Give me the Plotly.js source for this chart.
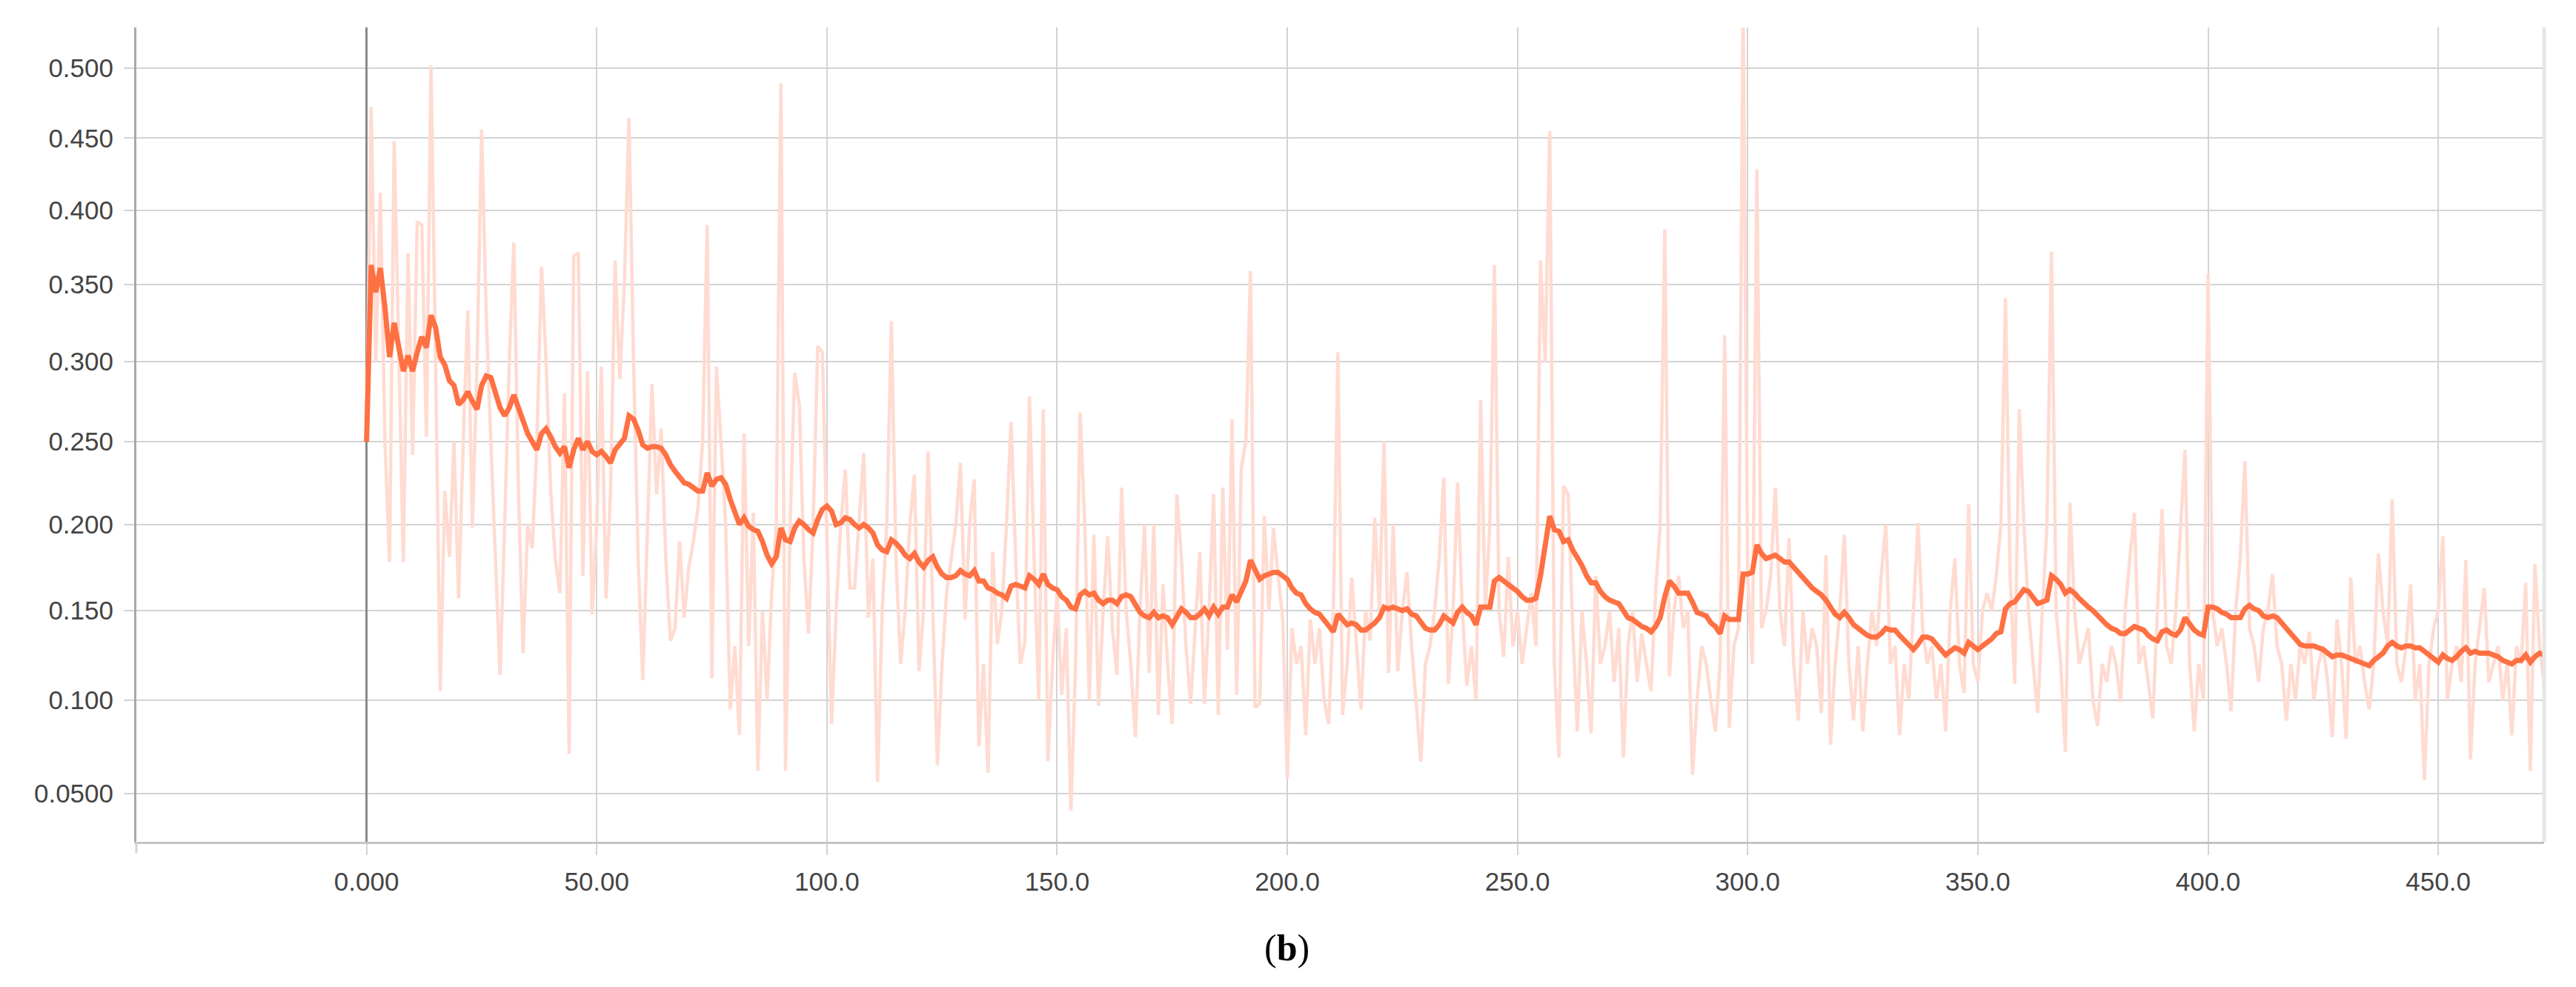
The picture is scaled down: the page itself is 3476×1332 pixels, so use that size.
<!DOCTYPE html>
<html>
<head>
<meta charset="utf-8">
<script src="https://cdn.plot.ly/plotly-3.0.1.min.js"></script>
<style>
  html, body { margin: 0; padding: 0; background: #ffffff; }
  #chart { width: 3476px; height: 1332px; }
</style>
</head>
<body>
<div id="chart"></div>
<script>
// Step axis: first step and step size
const stepStart = 0;
const stepSize = 1;

// Smoothed loss (one value per step)
const smoothed = [
0.25,0.363,0.345,0.361,0.335,0.303,0.325,0.31,0.294,0.304,
0.294,0.306,0.316,0.309,0.33,0.322,0.303,0.298,0.288,0.285,
0.273,0.276,0.281,0.275,0.27,0.285,0.291,0.29,0.281,0.271,
0.266,0.271,0.279,0.271,0.261,0.255,0.25,0.245,0.255,0.258,
0.253,0.247,0.243,0.247,0.234,0.245,0.252,0.245,0.25,0.244,
0.242,0.244,0.241,0.237,0.245,0.248,0.252,0.266,0.264,0.257,
0.248,0.246,0.247,0.247,0.246,0.242,0.236,0.232,0.228,0.225,
0.224,0.222,0.22,0.22,0.231,0.223,0.227,0.228,0.224,0.215,
0.207,0.2,0.204,0.199,0.197,0.196,0.19,0.182,0.177,0.181,
0.198,0.191,0.19,0.198,0.202,0.2,0.197,0.195,0.203,0.209,
0.211,0.208,0.2,0.201,0.204,0.203,0.2,0.198,0.2,0.198,
0.195,0.188,0.185,0.184,0.191,0.189,0.186,0.182,0.18,0.183,
0.178,0.175,0.179,0.181,0.175,0.171,0.169,0.169,0.17,0.173,
0.171,0.17,0.173,0.167,0.167,0.163,0.162,0.16,0.159,0.157,
0.164,0.165,0.164,0.163,0.17,0.168,0.165,0.171,0.165,0.163,
0.162,0.158,0.156,0.152,0.151,0.159,0.161,0.159,0.16,0.156,
0.154,0.156,0.156,0.154,0.158,0.159,0.158,0.154,0.149,0.147,
0.146,0.149,0.146,0.147,0.146,0.142,0.147,0.151,0.149,0.146,
0.146,0.148,0.151,0.147,0.152,0.148,0.152,0.152,0.159,0.155,
0.161,0.167,0.179,0.173,0.168,0.17,0.171,0.172,0.172,0.17,
0.168,0.163,0.16,0.159,0.154,0.151,0.149,0.148,0.145,0.141,
0.138,0.148,0.145,0.142,0.143,0.142,0.139,0.139,0.141,0.143,
0.146,0.152,0.151,0.152,0.151,0.15,0.151,0.148,0.147,0.143,
0.14,0.139,0.139,0.142,0.147,0.145,0.143,0.149,0.152,0.149,
0.147,0.142,0.152,0.152,0.152,0.167,0.169,0.167,0.165,0.163,
0.161,0.158,0.156,0.156,0.157,0.17,0.19,0.205,0.197,0.196,
0.19,0.191,0.185,0.181,0.176,0.17,0.166,0.166,0.161,0.158,
0.156,0.155,0.154,0.15,0.146,0.145,0.143,0.141,0.14,0.138,
0.141,0.146,0.158,0.167,0.164,0.16,0.16,0.16,0.155,0.149,
0.148,0.147,0.143,0.141,0.137,0.147,0.145,0.145,0.145,0.171,
0.171,0.172,0.188,0.183,0.18,0.181,0.182,0.18,0.178,0.178,
0.175,0.171,0.168,0.165,0.163,0.161,0.159,0.156,0.152,0.148,
0.146,0.149,0.146,0.142,0.14,0.138,0.136,0.135,0.135,0.137,
0.14,0.139,0.139,0.136,0.133,0.13,0.128,0.131,0.135,0.135,
0.134,0.131,0.128,0.125,0.127,0.129,0.128,0.126,0.132,0.13,
0.128,0.13,0.132,0.134,0.137,0.138,0.151,0.154,0.155,0.159,
0.162,0.161,0.158,0.154,0.155,0.156,0.17,0.168,0.165,0.16,
0.162,0.16,0.157,0.154,0.152,0.15,0.147,0.144,0.142,0.14,
0.139,0.137,0.137,0.139,0.141,0.14,0.139,0.136,0.134,0.133,
0.138,0.139,0.137,0.136,0.139,0.146,0.142,0.139,0.137,0.136,
0.152,0.152,0.151,0.149,0.148,0.146,0.146,0.146,0.151,0.153,
0.151,0.15,0.147,0.146,0.147,0.146,0.143,0.14,0.137,0.133,
0.131,0.13,0.13,0.13,0.129,0.128,0.126,0.124,0.125,0.125,
0.124,0.123,0.122,0.121,0.12,0.119,0.122,0.124,0.126,0.13,
0.132,0.13,0.129,0.13,0.13,0.129,0.129,0.127,0.125,0.123,
0.121,0.125,0.123,0.122,0.124,0.127,0.129,0.126,0.127,0.126,
0.126,0.126,0.125,0.124,0.122,0.121,0.12,0.122,0.122,0.125,
0.121,0.124,0.126,0.125
];

// Raw (unsmoothed) loss (one value per step)
const raw = [
0.25,0.472,0.30,0.412,0.25,0.178,0.448,0.30,0.178,0.371,
0.242,0.392,0.39,0.253,0.502,0.30,0.105,0.22,0.181,0.25,
0.157,0.25,0.333,0.198,0.30,0.456,0.33,0.25,0.18,0.114,
0.20,0.30,0.378,0.22,0.126,0.20,0.186,0.25,0.362,0.30,
0.22,0.18,0.16,0.28,0.071,0.369,0.371,0.17,0.294,0.148,
0.20,0.297,0.157,0.22,0.366,0.289,0.35,0.464,0.30,0.18,
0.111,0.20,0.286,0.218,0.258,0.18,0.133,0.14,0.19,0.146,
0.175,0.19,0.21,0.25,0.39,0.112,0.297,0.25,0.20,0.095,
0.13,0.081,0.255,0.13,0.207,0.062,0.15,0.10,0.16,0.20,
0.489,0.062,0.20,0.293,0.273,0.18,0.137,0.20,0.31,0.306,
0.20,0.087,0.15,0.20,0.233,0.163,0.163,0.20,0.243,0.146,
0.18,0.056,0.15,0.20,0.326,0.18,0.12,0.15,0.20,0.23,
0.116,0.15,0.244,0.15,0.065,0.12,0.16,0.18,0.20,0.237,
0.145,0.20,0.227,0.075,0.12,0.061,0.184,0.131,0.15,0.20,
0.262,0.18,0.12,0.132,0.278,0.18,0.10,0.27,0.067,0.12,
0.16,0.103,0.14,0.041,0.12,0.268,0.20,0.10,0.194,0.097,
0.15,0.193,0.14,0.114,0.222,0.15,0.12,0.08,0.15,0.20,
0.115,0.20,0.092,0.165,0.12,0.087,0.218,0.18,0.13,0.098,
0.14,0.184,0.098,0.15,0.218,0.092,0.222,0.128,0.264,0.103,
0.234,0.25,0.359,0.096,0.098,0.205,0.15,0.198,0.17,0.145,
0.058,0.14,0.12,0.13,0.081,0.145,0.12,0.14,0.10,0.087,
0.15,0.306,0.092,0.12,0.169,0.13,0.095,0.15,0.133,0.204,
0.15,0.25,0.115,0.20,0.116,0.15,0.172,0.13,0.10,0.067,
0.12,0.13,0.15,0.18,0.228,0.109,0.15,0.225,0.15,0.108,
0.13,0.10,0.276,0.15,0.20,0.363,0.15,0.124,0.181,0.13,
0.15,0.12,0.14,0.16,0.13,0.366,0.30,0.455,0.12,0.069,
0.223,0.218,0.14,0.083,0.15,0.12,0.082,0.17,0.12,0.13,
0.15,0.11,0.14,0.069,0.13,0.15,0.11,0.137,0.12,0.105,
0.16,0.20,0.387,0.113,0.15,0.17,0.14,0.15,0.06,0.10,
0.13,0.12,0.10,0.083,0.12,0.317,0.085,0.13,0.14,0.55,
0.17,0.12,0.428,0.14,0.15,0.17,0.222,0.15,0.13,0.192,
0.12,0.089,0.15,0.12,0.14,0.13,0.093,0.182,0.076,0.12,
0.15,0.194,0.12,0.089,0.13,0.083,0.12,0.15,0.13,0.17,
0.20,0.12,0.13,0.081,0.12,0.10,0.15,0.201,0.14,0.12,
0.13,0.10,0.12,0.083,0.15,0.18,0.12,0.104,0.212,0.12,
0.11,0.15,0.16,0.15,0.17,0.20,0.341,0.17,0.109,0.27,
0.20,0.15,0.12,0.093,0.15,0.20,0.372,0.15,0.12,0.072,
0.213,0.15,0.12,0.13,0.14,0.10,0.086,0.12,0.11,0.13,
0.12,0.099,0.15,0.18,0.207,0.12,0.13,0.11,0.09,0.15,
0.209,0.13,0.12,0.15,0.20,0.245,0.12,0.083,0.12,0.10,
0.357,0.15,0.13,0.14,0.12,0.094,0.15,0.18,0.238,0.14,
0.13,0.11,0.14,0.15,0.171,0.13,0.12,0.089,0.12,0.10,
0.13,0.12,0.138,0.10,0.12,0.13,0.11,0.08,0.145,0.12,
0.079,0.169,0.12,0.13,0.11,0.095,0.12,0.183,0.15,0.13,
0.215,0.12,0.11,0.13,0.165,0.10,0.12,0.057,0.12,0.14,
0.15,0.193,0.10,0.12,0.13,0.11,0.179,0.068,0.12,0.14,
0.163,0.11,0.12,0.13,0.10,0.12,0.081,0.13,0.12,0.166,
0.062,0.177,0.13,0.109
];

// Axis ticks
const yTickValues = [0.05, 0.1, 0.15, 0.2, 0.25, 0.3, 0.35, 0.4, 0.45, 0.5];
const yTickLabels = ["0.0500", "0.100", "0.150", "0.200", "0.250", "0.300", "0.350", "0.400", "0.450", "0.500"];
const xTickValues = [0, 50, 100, 150, 200, 250, 300, 350, 400, 450];
const xTickLabels = ["0.000", "50.00", "100.0", "150.0", "200.0", "250.0", "300.0", "350.0", "400.0", "450.0"];
const xRange = [-50, 473];
const yRange = [0.025, 0.53];
const panelLabel = "(<b>b</b>)";

// TensorBoard-style "modified log" scale (base 10, pivot 10)
function modLog(v) {
  let x = v;
  if (x < 10) x += (10 - x) / 10;
  return Math.log10(x);
}

const tickFont = { family: "Liberation Sans, Arial, sans-serif", size: 35, color: "#444444" };

const traces = [
  {
    type: "scatter", mode: "lines",
    x0: stepStart, dx: stepSize,
    y: raw.map(modLog),
    line: { color: "#ffdbd1", width: 4.5 },
    hoverinfo: "skip", showlegend: false
  },
  {
    type: "scatter", mode: "lines",
    x0: stepStart, dx: stepSize,
    y: smoothed.map(modLog),
    line: { color: "#ff7043", width: 7 },
    showlegend: false
  }
];

const layout = {
  width: 3476, height: 1332,
  margin: { l: 184, r: 43, t: 37, b: 196 },
  paper_bgcolor: "#ffffff", plot_bgcolor: "#ffffff",
  showlegend: false,
  xaxis: {
    range: xRange,
    tickmode: "array", tickvals: xTickValues, ticktext: xTickLabels,
    showgrid: true, gridcolor: "#d3d3d3", gridwidth: 2,
    zeroline: true, zerolinecolor: "#8a8a8a", zerolinewidth: 3,
    showline: true, linecolor: "#c4c4c4", linewidth: 3,
    ticks: "outside", ticklen: 15, tickwidth: 2, tickcolor: "#d3d3d3",
    ticklabelstandoff: 6,
    tickfont: tickFont
  },
  yaxis: {
    range: yRange.map(modLog),
    tickmode: "array", tickvals: yTickValues.map(modLog), ticktext: yTickLabels,
    showgrid: true, gridcolor: "#d3d3d3", gridwidth: 2,
    zeroline: false,
    showline: true, linecolor: "#a8a8a8", linewidth: 3,
    ticks: "outside", ticklen: 14, tickwidth: 2, tickcolor: "#d3d3d3",
    ticklabelstandoff: 7,
    tickfont: tickFont
  },
  shapes: [
    { type: "line", xref: "paper", yref: "paper", x0: 1, x1: 1, y0: 0, y1: 1,
      line: { color: "#e6e6e6", width: 5 } },
    { type: "line", xref: "paper", yref: "paper", x0: 0, x1: 0, y0: 0, y1: -0.014,
      line: { color: "#d3d3d3", width: 3 } }
  ],
  annotations: [
    { text: panelLabel, xref: "paper", yref: "paper", x: (1736 - 184) / (3476 - 184 - 43),
      y: -(1279 - 1136) / (1136 - 37), xanchor: "center", yanchor: "middle",
      showarrow: false,
      font: { family: "Liberation Serif, Times New Roman, serif", size: 50, color: "#000000" } }
  ]
};

Plotly.newPlot("chart", traces, layout, { staticPlot: true, displayModeBar: false });
</script>
</body>
</html>
